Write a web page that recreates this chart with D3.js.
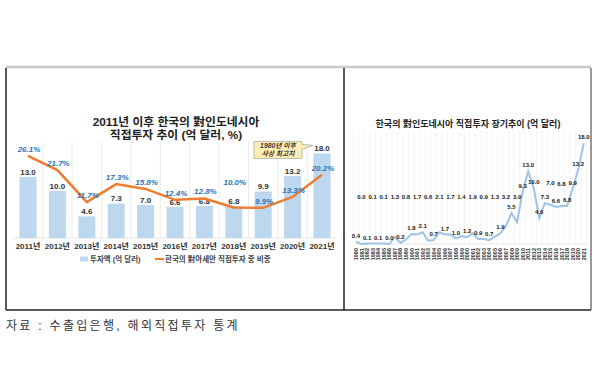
<!DOCTYPE html>
<html>
<head>
<meta charset="utf-8">
<script src="https://cdn.jsdelivr.net/npm/d3@7/dist/d3.min.js"></script>
<style>
  body { margin: 0; background: #fff; }
  svg { display: block; }
  text { font-family: "Liberation Sans", "Noto Sans CJK KR", sans-serif; }
</style>
</head>
<body>
<svg id="chart" width="600" height="387"></svg>
<script>
// left chart data (2011~2021)
const years = ["2011년", "2012년", "2013년", "2014년", "2015년", "2016년", "2017년", "2018년", "2019년", "2020년", "2021년"];
const invest = [13.0, 10.0, 4.6, 7.3, 7.0, 6.6, 6.8, 6.8, 9.9, 13.2, 18.0];
const share = [26.1, 21.7, 11.7, 17.3, 15.8, 12.4, 12.8, 10.0, 9.9, 13.3, 20.2];

// right chart data (1980~2021)
const longYears = d3.range(1980, 2022);
const longInvest = [0.4, 0.0, 0.1, 0.1, 0.1, 0.1, 0.0, 1.3, 0.2, 0.8,
                    1.8, 1.7, 2.1, 0.6, 0.7, 2.1, 1.7, 1.7, 1.0, 1.4,
                    1.2, 1.9, 0.9, 0.9, 0.7, 1.3, 1.9, 3.2, 5.5, 3.9,
                    9.3, 13.0, 10.0, 4.6, 7.3, 7.0, 6.6, 6.8, 6.8, 9.9,
                    13.2, 18.0];

const svg = d3.select("#chart");

// table frame
svg.append("line").attr("x1", 6).attr("x2", 591).attr("y1", 67).attr("y2", 67)
    .attr("stroke", "#c8c8c8").attr("stroke-width", 2.5);
svg.append("line").attr("x1", 6).attr("x2", 6).attr("y1", 68).attr("y2", 310)
    .attr("stroke", "#222").attr("stroke-width", 1.5);
svg.append("line").attr("x1", 344).attr("x2", 344).attr("y1", 68).attr("y2", 310)
    .attr("stroke", "#222").attr("stroke-width", 1.5);
svg.append("line").attr("x1", 591).attr("x2", 591).attr("y1", 68).attr("y2", 310)
    .attr("stroke", "#555").attr("stroke-width", 1.2);
svg.append("line").attr("x1", 6).attr("x2", 591).attr("y1", 310).attr("y2", 310)
    .attr("stroke", "#222").attr("stroke-width", 1.5);

// source
svg.append("text")
    .attr("x", 6).attr("y", 330)
    .attr("font-size", "12px").attr("fill", "#333")
    .style("letter-spacing", "2.3px")
    .text("자료 : 수출입은행, 해외직접투자 통계");

//---------------- left chart ----------------
const x1 = d3.scaleBand().domain(years).range([13.3, 336.7]);
const yBar = d3.scaleLinear().domain([0, 20]).range([238, 144]);
const yPct = d3.scaleLinear().domain([0, 30]).range([239.5, 143.5]);
const left = svg.append("g");

left.append("text")
    .attr("x", 176).attr("y", 126)
    .attr("text-anchor", "middle").attr("font-size", "11.8px").attr("font-weight", "bold").attr("fill", "#222")
    .text("2011년 이후 한국의 對인도네시아");
left.append("text")
    .attr("x", 176).attr("y", 138.5)
    .attr("text-anchor", "middle").attr("font-size", "11.8px").attr("font-weight", "bold").attr("fill", "#222")
    .text("직접투자 추이 (억 달러, %)");

//category separators
left.selectAll(".sep").data(years.slice(1)).enter()
    .append("line")
    .attr("x1", d => x1(d)).attr("x2", d => x1(d))
    .attr("y1", yBar(20) - 2).attr("y2", yBar(0))
    .attr("stroke", "#e6e6e6").attr("stroke-width", 0.8);
left.append("line")
    .attr("x1", x1.range()[0]).attr("x2", x1.range()[1])
    .attr("y1", yBar(0)).attr("y2", yBar(0))
    .attr("stroke", "#e0e0e0").attr("stroke-width", 0.8);

//bars
const barW = 17;
left.selectAll(".bar").data(invest).enter()
    .append("rect")
    .attr("x", (d, i) => x1(years[i]) + x1.bandwidth() / 2 - barW / 2)
    .attr("width", barW)
    .attr("y", d => yBar(d))
    .attr("height", d => yBar(0) - yBar(d))
    .attr("fill", "#bdd7ee");

left.selectAll(".barlab").data(invest).enter()
    .append("text")
    .attr("x", (d, i) => x1(years[i]) + x1.bandwidth() / 2)
    .attr("y", d => yBar(d) - 5)
    .attr("dy", "0.35em")
    .attr("text-anchor", "middle").attr("font-size", "8px").attr("font-weight", "bold").attr("fill", "#333")
    .text(d => d.toFixed(1));

//share line
const line1 = d3.line()
    .x((d, i) => x1(years[i]) + x1.bandwidth() / 2)
    .y(d => yPct(d));
left.append("path").datum(share)
    .attr("d", line1)
    .attr("fill", "none").attr("stroke", "#ed7d31").attr("stroke-width", 2.5);

left.selectAll(".pctlab").data(share).enter()
    .append("text")
    .attr("x", (d, i) => x1(years[i]) + x1.bandwidth() / 2 + 1)
    .attr("y", (d, i) => yPct(d) - (years[i] === "2018년" ? 25 : 7))
    .attr("dy", "0.35em")
    .attr("text-anchor", "middle").attr("font-size", "8px").attr("font-weight", "bold")
    .attr("font-style", "italic").attr("fill", "#2e75b6")
    .text(d => d.toFixed(1) + "%");

//x labels
left.selectAll(".xlab").data(years).enter()
    .append("text")
    .attr("x", d => x1(d) + x1.bandwidth() / 2)
    .attr("y", 249)
    .attr("text-anchor", "middle").attr("font-size", "8px").attr("font-weight", "bold").attr("fill", "#333")
    .text(d => d);

//callout to the 2021 value
const lastX = x1(years[10]) + x1.bandwidth() / 2;
const lastY = yBar(invest[10]) - 5;
const cg = left.append("g");
cg.append("path")
    .attr("d", `M${lastX - 68},${lastY - 7} H${lastX - 20} V${lastY - 4} L${lastX - 9},${lastY - 3} L${lastX - 20},${lastY + 1} V${lastY + 10} H${lastX - 68} Z`)
    .attr("fill", "#ffeeb3").attr("stroke", "#a0a0a0").attr("stroke-width", 0.7);
cg.append("text")
    .attr("x", lastX - 44).attr("y", lastY)
    .attr("text-anchor", "middle").attr("font-size", "6.8px").attr("font-weight", "bold")
    .attr("font-style", "italic").attr("fill", "#333")
    .text("1980년 이후");
cg.append("text")
    .attr("x", lastX - 44).attr("y", lastY + 8)
    .attr("text-anchor", "middle").attr("font-size", "6.8px").attr("font-weight", "bold")
    .attr("font-style", "italic").attr("fill", "#333")
    .text("사상 최고치");

//legend
const lg = left.append("g").attr("transform", "translate(80, 259)");
lg.append("rect").attr("x", 0).attr("y", -2.5).attr("width", 8).attr("height", 5).attr("fill", "#bdd7ee");
lg.append("text").attr("x", 10).attr("y", 0).attr("dy", "0.35em")
    .attr("font-size", "7.5px").attr("font-weight", "bold").attr("fill", "#444")
    .text("투자액 (억 달러)");
lg.append("line").attr("x1", 75).attr("x2", 84).attr("y1", 0).attr("y2", 0)
    .attr("stroke", "#ed7d31").attr("stroke-width", 2);
lg.append("text").attr("x", 85).attr("y", 0).attr("dy", "0.35em")
    .attr("font-size", "7.5px").attr("font-weight", "bold").attr("fill", "#444")
    .text("한국의 對아세안 직접투자 중 비중");

//---------------- right chart ----------------
const x2 = d3.scaleBand().domain(longYears).range([353.2, 586.5]);
const yR = d3.scaleLinear().domain([0, 20]).range([244, 132]);
const right = svg.append("g");
const cx = d => x2(d) + x2.bandwidth() / 2;

right.append("text")
    .attr("x", 468).attr("y", 127)
    .attr("text-anchor", "middle").attr("font-size", "9px").attr("font-weight", "bold").attr("fill", "#222")
    .text("한국의 對인도네시아 직접투자 장기추이 (억 달러)");

right.selectAll(".grid").data(longYears.concat([2022])).enter()
    .append("line")
    .attr("x1", d => d === 2022 ? x2.range()[1] : x2(d))
    .attr("x2", d => d === 2022 ? x2.range()[1] : x2(d))
    .attr("y1", 131).attr("y2", yR(0))
    .attr("stroke", "#ececec").attr("stroke-width", 0.6);
right.append("line")
    .attr("x1", x2.range()[0]).attr("x2", x2.range()[1])
    .attr("y1", yR(0)).attr("y2", yR(0))
    .attr("stroke", "#dcdcdc").attr("stroke-width", 0.7);

const line2 = d3.line()
    .x((d, i) => cx(longYears[i]))
    .y(d => yR(d));
right.append("path").datum(longInvest)
    .attr("d", line2)
    .attr("fill", "none").attr("stroke", "#9dc3e6").attr("stroke-width", 2);

// odd years before 2010 have their labels lifted to one row
const liftedYears = [2015, 2017];
right.selectAll(".vlab").data(longInvest).enter()
    .append("text")
    .attr("x", (d, i) => cx(longYears[i]))
    .attr("y", (d, i) => {
        const yr = longYears[i];
        if (yr < 2010 && yr % 2 === 1) return yR(8.5);
        if (liftedYears.includes(yr)) return yR(d) - 22;
        return yR(d) - 6;
    })
    .attr("dy", "0.35em")
    .attr("text-anchor", "middle").attr("font-size", "6px").attr("font-weight", "bold").attr("fill", "#222")
    .text(d => d.toFixed(1));

right.selectAll(".ylab").data(longYears).enter()
    .append("text")
    .attr("transform", d => `translate(${cx(d) + 2},${yR(0) + 4}) rotate(-90)`)
    .attr("text-anchor", "end").attr("font-size", "5.5px").attr("font-weight", "bold").attr("fill", "#333")
    .text(d => d);
</script>
</body>
</html>
